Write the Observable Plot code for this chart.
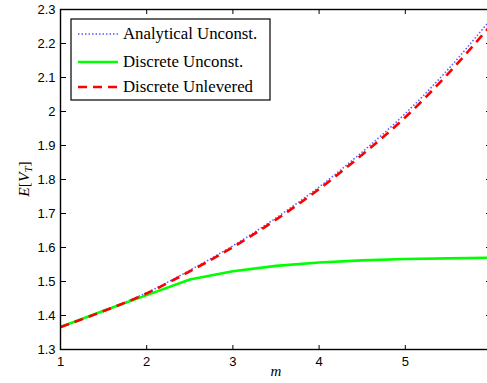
<!DOCTYPE html>
<html>
<head>
<meta charset="utf-8">
<script src="https://cdn.jsdelivr.net/npm/d3@7"></script>
<script src="https://cdn.jsdelivr.net/npm/@observablehq/plot@0.6"></script>
<style>
  html, body { margin: 0; padding: 0; background: #fff; overflow: hidden; }
  #chart { width: 487px; height: 383px; overflow: hidden; }
</style>
</head>
<body>
<div id="chart"></div>
<script>
// Expected terminal value E[V_T] against the number of periods m
const m = [1, 1.5, 2, 2.5, 3, 3.5, 4, 4.5, 5, 5.5, 6];
const analyticalUnconst = [1.366, 1.414, 1.467, 1.533, 1.605, 1.687, 1.778, 1.881, 1.994, 2.125, 2.274];
const discreteUnconst   = [1.366, 1.414, 1.460, 1.506, 1.530, 1.546, 1.556, 1.562, 1.566, 1.568, 1.570];
const discreteUnlevered = [1.366, 1.413, 1.465, 1.530, 1.601, 1.682, 1.772, 1.873, 1.983, 2.112, 2.256];

const seriesNames = ["Analytical Unconst.", "Discrete Unconst.", "Discrete Unlevered"];
const seriesValues = [analyticalUnconst, discreteUnconst, discreteUnlevered];
const seriesStyles = [
  {stroke: "#5a5aff", strokeWidth: 1.5, strokeDasharray: "1.5 2", curve: "monotone-x"},
  {stroke: "#00ff00", strokeWidth: 2.6, strokeDasharray: null, curve: "linear"},
  {stroke: "#ff0000", strokeWidth: 2.6, strokeDasharray: "9 6", curve: "monotone-x"}
];

const xTickLabels = [1, 2, 3, 4, 5];
const xTicks = [1, 2, 3, 4, 5, 6];
const yTicks = [1.3, 1.4, 1.5, 1.6, 1.7, 1.8, 1.9, 2, 2.1, 2.2, 2.3];

const serif = "'Liberation Serif', 'DejaVu Serif', serif";
const sans = "'Liberation Sans', Arial, sans-serif";

const lines = seriesNames.map((name, i) =>
  Plot.line(m.map((v, j) => ({m: v, value: seriesValues[i][j]})), {
    x: "m", y: "value",
    curve: seriesStyles[i].curve,
    stroke: seriesStyles[i].stroke,
    strokeWidth: seriesStyles[i].strokeWidth,
    strokeDasharray: seriesStyles[i].strokeDasharray,
    strokeLinecap: "butt"
  })
);

// inward-pointing tick marks on all four sides
const noText = {tickFormat: () => "", label: null, tickSize: 5, strokeWidth: 1, stroke: "#000"};

const chart = Plot.plot({
  width: 487,
  height: 383,
  marginLeft: 60,
  marginRight: -4,
  marginTop: 9,
  marginBottom: 34,
  style: {fontFamily: sans, fontSize: "13px", color: "#000", background: "#fff"},
  x: {domain: [1, 6]},
  y: {domain: [1.3, 2.3]},
  marks: [
    ...lines,
    Plot.frame({stroke: "#000", strokeWidth: 1.4}),
    Plot.axisX(xTickLabels, {anchor: "bottom", tickSize: 0, tickPadding: 7, tickFormat: d => String(d), label: null, fontSize: 13}),
    Plot.axisX(xTicks, {...noText, anchor: "top", frameAnchor: "bottom"}),
    Plot.axisX(xTicks, {...noText, anchor: "bottom", frameAnchor: "top"}),
    Plot.axisY(yTicks, {anchor: "left", tickSize: 0, tickPadding: 5, tickFormat: d => String(d), label: null, fontSize: 13}),
    Plot.axisY(yTicks, {...noText, anchor: "right", frameAnchor: "left"}),
    Plot.axisY(yTicks, {...noText, anchor: "left", frameAnchor: "right"}),
    Plot.text(["m"], {frameAnchor: "bottom", dy: 26, fontFamily: serif, fontStyle: "italic", fontSize: 15, fill: "#000", textAnchor: "middle", lineAnchor: "bottom"})
  ]
});

document.getElementById("chart").appendChild(chart);

const svg = d3.select(chart);

// y-axis title with a subscript
const yLabel = svg.append("text")
  .attr("transform", "translate(29,179) rotate(-90)")
  .attr("text-anchor", "middle")
  .attr("font-family", serif)
  .attr("font-size", 15.5)
  .attr("fill", "#000");
yLabel.append("tspan").attr("font-style", "italic").text("E");
yLabel.append("tspan").text("[");
yLabel.append("tspan").attr("font-style", "italic").text("V");
yLabel.append("tspan").attr("font-style", "italic").attr("font-size", 11).attr("dy", 3).text("T");
yLabel.append("tspan").attr("dy", -3).text("]");

// legend box in the upper-left corner of the axes
const legend = svg.append("g").attr("transform", "translate(71,19)");
legend.append("rect")
  .attr("width", 199).attr("height", 81)
  .attr("fill", "#fff").attr("stroke", "#000").attr("stroke-width", 1.2);
const rowY = [15, 43, 68];
seriesNames.forEach((name, i) => {
  const s = seriesStyles[i];
  legend.append("line")
    .attr("x1", 7).attr("x2", 47).attr("y1", rowY[i]).attr("y2", rowY[i])
    .attr("stroke", s.stroke).attr("stroke-width", s.strokeWidth)
    .attr("stroke-dasharray", s.strokeDasharray);
  legend.append("text")
    .attr("x", 52).attr("y", rowY[i] + 5)
    .attr("text-anchor", "start")
    .attr("font-family", serif).attr("font-size", 16.8).attr("fill", "#000")
    .text(name);
});
</script>
</body>
</html>
